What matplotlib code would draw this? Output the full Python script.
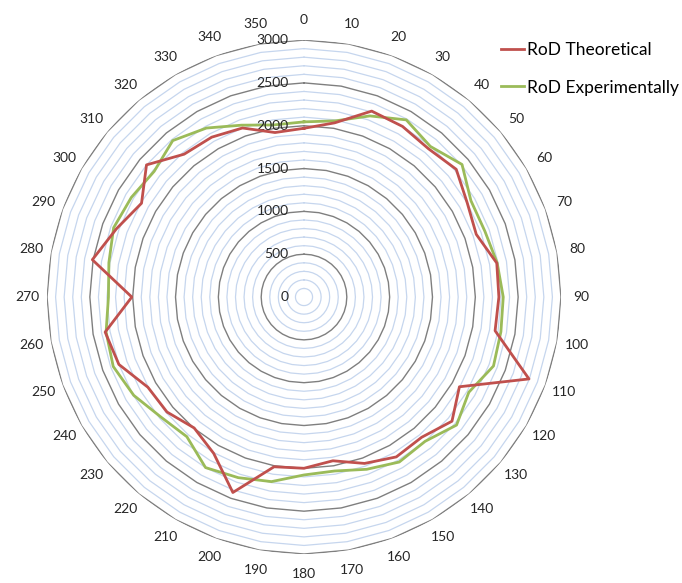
import numpy as np
import matplotlib
matplotlib.use('Agg')
import matplotlib.pyplot as plt
from matplotlib import rcParams

rcParams['font.family'] = ['Lato', 'DejaVu Sans']
rcParams['font.size'] = 10

# %% data
angles = list(range(0, 360, 10))
rod_theoretical = [1970, 2065, 2310, 2300, 2260, 2320, 2200, 2140, 2285, 2275,
                   2265, 2795, 2095, 2255, 2137, 2155, 2067, 1941, 1999, 2012,
                   2428, 2108, 1995, 2088, 2105, 2300, 2357, 2010, 2509, 2330,
                   2190, 2400, 2177, 2155, 2100, 1950]
rod_experimental = [2045, 2088, 2250, 2388, 2295, 2408, 2250, 2247, 2290, 2326,
                    2334, 2354, 2222, 2325, 2199, 2224, 2140, 2062, 2077, 2188,
                    2244, 2299, 2128, 2180, 2295, 2370, 2346, 2283, 2313, 2365,
                    2327, 2283, 2384, 2278, 2135, 2040]
r_ticks = [0, 500, 1000, 1500, 2000, 2500, 3000]

# %% figure
fig = plt.figure(figsize=(6.82, 5.83), dpi=100)
ax = fig.add_axes([0.0689, 0.0497, 0.7537, 0.8816], projection='polar')
ax.set_theta_zero_location('N')
ax.set_theta_direction(-1)
ax.set_ylim(0, 3000)
ax.grid(False)
ax.spines['polar'].set_visible(False)
ax.set_xticks([])
ax.set_yticks([])

theta = np.deg2rad(angles + [angles[0]])

# polygon gridlines
for r in range(100, 3001, 100):
    if r % 500 == 0:
        ax.plot(theta, [r] * len(theta), color='#7f7f7f', lw=1.0, zorder=2)
    else:
        ax.plot(theta, [r] * len(theta), color='#c6d6ee', lw=0.9, zorder=1)

ax.plot(theta, rod_theoretical + rod_theoretical[:1], color='#c0504d', lw=2.0,
        label='RoD Theoretical', zorder=4)
ax.plot(theta, rod_experimental + rod_experimental[:1], color='#9bbb59', lw=2.0,
        label='RoD Experimentally', zorder=3)

# category labels
for a in angles:
    ax.text(np.deg2rad(a), 3235, str(a), ha='center', va='center',
            fontsize=10, color='#262626')

# radial labels
for v in r_ticks:
    ax.annotate(str(v), xy=(0, v), xytext=(-11, 0), textcoords='offset points',
                ha='right', va='center', fontsize=10, color='#262626')

fig.legend(loc='upper left', bbox_to_anchor=(0.712, 0.955), frameon=False,
           fontsize=12.5, handlelength=1.3, handletextpad=0.2, labelspacing=1.25)

fig.savefig('out.png')
